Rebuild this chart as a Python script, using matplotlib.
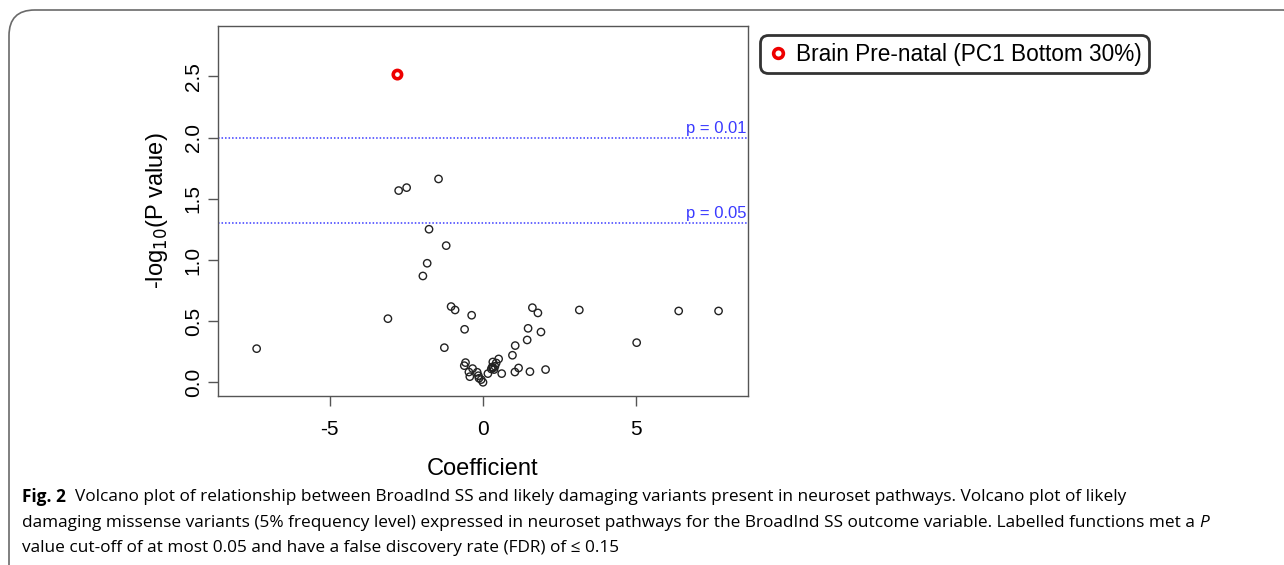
import matplotlib
matplotlib.use("Agg")
import matplotlib.pyplot as plt
from matplotlib.patches import FancyBboxPatch
from matplotlib.lines import Line2D

# ---- data ----
highlight_x = [-2.79]
highlight_y = [2.515]
highlight_label = "Brain Pre-natal (PC1 Bottom 30%)"

coef = [-2.75, -2.49, -1.45, -1.76, -1.20, -1.82, -1.96, -1.04, -0.91, -0.37,
        -3.10, -0.60, -1.26, -7.38, 1.61, 1.79, 3.14, 6.38, 7.68, 1.47,
        1.89, 1.44, 5.01, 1.05, 0.96, 0.51, 0.32, 1.16, 1.04, 1.53,
        2.04, 0.61, 0.16, -0.57, -0.61, -0.34, -0.46, -0.43, -0.19, -0.15,
        -0.13, -0.06, 0.00, 0.39, 0.33, 0.27, 0.43, 0.36, 0.30]
neglogp = [1.567, 1.591, 1.662, 1.251, 1.117, 0.973, 0.869, 0.619, 0.591, 0.548,
           0.520, 0.433, 0.283, 0.275, 0.610, 0.567, 0.591, 0.583, 0.583, 0.441,
           0.411, 0.346, 0.324, 0.300, 0.221, 0.191, 0.166, 0.117, 0.084, 0.087,
           0.104, 0.071, 0.071, 0.161, 0.136, 0.112, 0.084, 0.046, 0.082, 0.054,
           0.033, 0.022, 0.000, 0.131, 0.117, 0.109, 0.158, 0.104, 0.125]

thresholds = [2.0, 1.301]
threshold_labels = ["p = 0.01", "p = 0.05"]
xticks = [-5, 0, 5]
yticks = [0.0, 0.5, 1.0, 1.5, 2.0, 2.5]

caption_line1 = "  Volcano plot of relationship between BroadInd SS and likely damaging variants present in neuroset pathways. Volcano plot of likely"
caption_line2 = "damaging missense variants (5% frequency level) expressed in neuroset pathways for the BroadInd SS outcome variable. Labelled functions met a "
caption_line3 = "value cut-off of at most 0.05 and have a false discovery rate (FDR) of \u2264 0.15"

W, H = 1284, 565
fig = plt.figure(figsize=(W / 100, H / 100), dpi=100)
fig.patch.set_facecolor("white")

def fx(px):
    return px / W

def fy(py):
    return 1 - py / H

# outer rounded frame (clipped on right/bottom)
frame = FancyBboxPatch((fx(9), fy(600)), fx(1300), (600 - 10) / H,
                       boxstyle="round,pad=0,rounding_size=0.02",
                       transform=fig.transFigure, fill=False,
                       edgecolor="#6a6a6a", linewidth=1.2, mutation_aspect=W / H)
fig.add_artist(frame)

ax = fig.add_axes([fx(218), fy(396), fx(748) - fx(218), fy(26) - fy(396)])
ax.set_xlim(-8.64, 8.64)
ax.set_ylim(-0.112, 2.912)

ax.scatter(coef, neglogp, s=28, facecolors="none", edgecolors="#222222", linewidths=1.0, zorder=3)
ax.scatter(highlight_x, highlight_y, s=36, facecolors="none", edgecolors="#ee0000", linewidths=2.6, zorder=4)

for yv, lab in zip(thresholds, threshold_labels):
    ax.axhline(yv, color="#3a3aff", linestyle=(0, (1, 1.3)), linewidth=1.1, zorder=2)
    ax.text(8.58, yv + 0.015, lab, color="#3a3aff", ha="right", va="bottom",
            fontsize=12, family="Liberation Sans")

ax.set_xticks(xticks)
ax.set_xticklabels([str(v) for v in xticks], fontsize=15, family="Liberation Sans")
ax.set_yticks(yticks)
ax.set_yticklabels([f"{v:.1f}" for v in yticks], fontsize=15, family="Liberation Sans",
                   rotation=90, va="center")
ax.tick_params(axis="x", direction="out", length=7, width=1, color="#555555", pad=10)
ax.tick_params(axis="y", direction="out", length=7, width=1, color="#555555", pad=4)
for sp in ax.spines.values():
    sp.set_color("#555555")
    sp.set_linewidth(1.0)

ax.set_xlabel("Coefficient", fontsize=17, family="Liberation Sans", labelpad=14)
ax.set_ylabel("-log$_{10}$(P value)", fontsize=17, family="Liberation Sans", labelpad=10)

# legend box outside the axes
handle = Line2D([], [], marker="o", linestyle="none", markerfacecolor="none",
                markeredgecolor="#ee0000", markeredgewidth=2.6, markersize=7)
leg = fig.legend([handle], [highlight_label], loc="upper left",
                 bbox_to_anchor=(fx(765), fy(40)), frameon=True, fancybox=True,
                 prop={"family": "Liberation Sans", "size": 16.3}, handletextpad=0.35,
                 handlelength=0.9, borderpad=0.12, borderaxespad=0)
leg.get_frame().set_edgecolor("black")
leg.get_frame().set_linewidth(2.0)
leg.get_frame().set_boxstyle("round,pad=0.2,rounding_size=0.35")

# caption
cfont = "Open Sans"
cs = 12.4
t = fig.text(fx(22), fy(497), "Fig. 2", fontsize=cs, family=cfont, fontweight="bold", va="center")
fig.canvas.draw()
bb = t.get_window_extent()
fig.text(bb.x1 / W, fy(497), caption_line1, fontsize=cs, family=cfont, va="center")
t2 = fig.text(fx(22), fy(523), caption_line2, fontsize=cs, family=cfont, va="center")
fig.canvas.draw()
bb2 = t2.get_window_extent()
fig.text(bb2.x1 / W, fy(523), "P", fontsize=cs, family=cfont, style="italic", va="center")
fig.text(fx(22), fy(548), caption_line3, fontsize=cs, family=cfont, va="center")

fig.savefig("out.png", dpi=100, facecolor="white")
